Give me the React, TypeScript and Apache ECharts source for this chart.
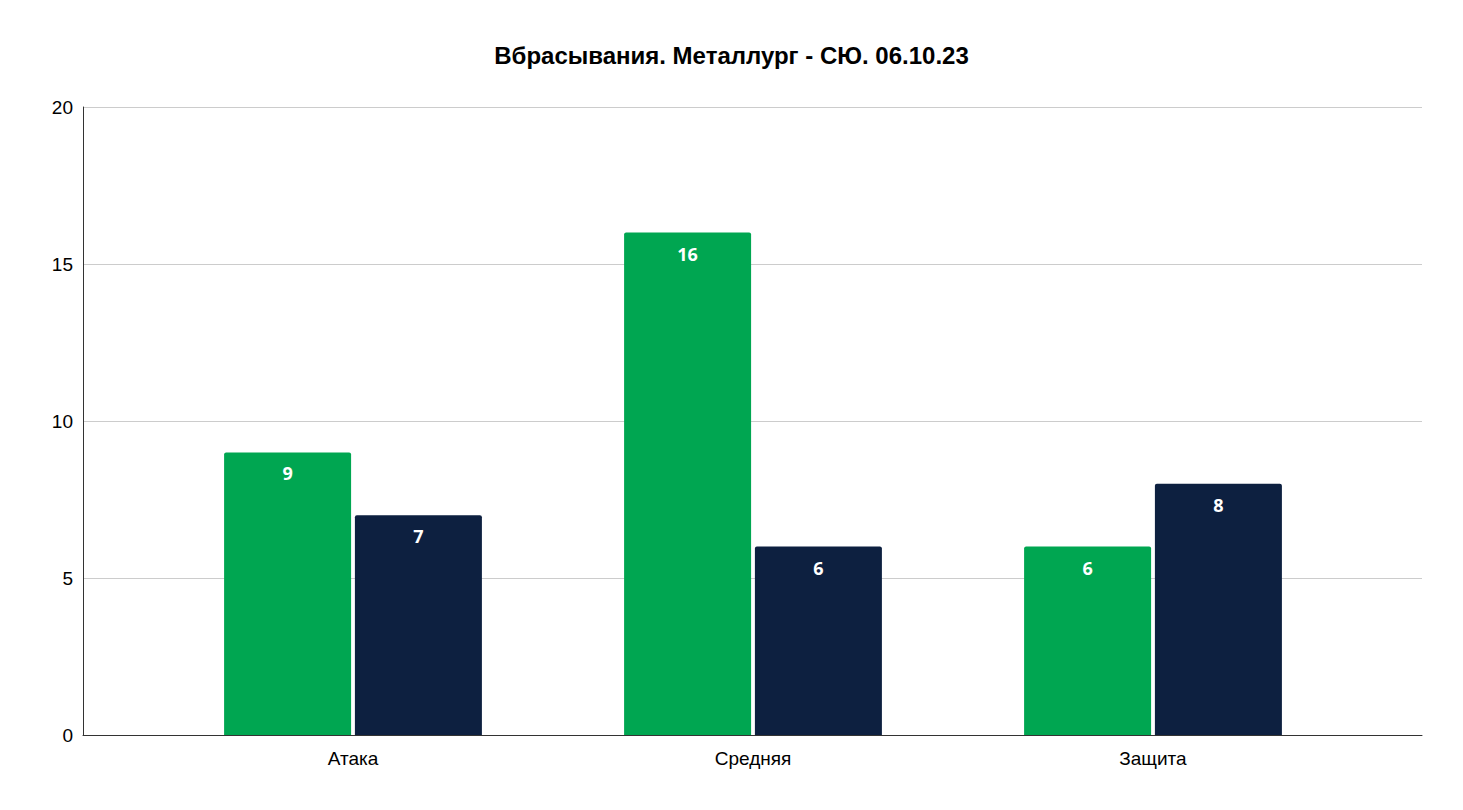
import React, { useEffect, useRef } from "react";
import * as echarts from "echarts";

const categories = ["Атака", "Средняя", "Защита"];
const seriesGreen = [9, 16, 6];
const seriesNavy = [7, 6, 8];
const yTicks = [0, 5, 10, 15, 20];
const titleText = "Вбрасывания. Металлург - СЮ. 06.10.23";

export default function App() {
  const ref = useRef<HTMLDivElement>(null);
  useEffect(() => {
    document.body.style.margin = "0";
    const chart = echarts.init(ref.current!, null, { renderer: "svg" });
    const labelStyle = {
      show: true,
      position: "insideTop" as const,
      distance: 12,
      color: "#ffffff",
      fontWeight: "bold" as const,
      fontSize: 18,
      fontFamily: "Open Sans",
    };
    chart.setOption({
      animation: false,
      backgroundColor: "#ffffff",
      title: {
        text: titleText,
        left: "center",
        top: 38,
        textStyle: { fontFamily: "Liberation Sans", fontWeight: "bold", fontSize: 24, color: "#000" },
      },
      grid: [
        { left: 83, right: 41, top: 107, bottom: 75 },
        { left: 153, right: 110, top: 107, bottom: 75 },
      ],
      xAxis: [
        {
          type: "value",
          gridIndex: 0,
          min: 0,
          max: 1,
          axisLine: { show: true, onZero: false, lineStyle: { color: "#333", width: 1 } },
          axisTick: { show: false },
          axisLabel: { show: false },
          splitLine: { show: false },
        },
        {
          type: "category",
          gridIndex: 1,
          data: categories,
          axisLine: { show: false },
          axisTick: { show: false },
          axisLabel: { color: "#000", fontSize: 19, fontFamily: "Liberation Sans", margin: 14 },
        },
      ],
      yAxis: [
        {
          type: "value",
          gridIndex: 0,
          min: yTicks[0],
          max: yTicks[yTicks.length - 1],
          interval: 5,
          axisLine: { show: true, lineStyle: { color: "#333", width: 1 } },
          axisTick: { show: false },
          axisLabel: { color: "#000", fontSize: 19, fontFamily: "Liberation Sans", margin: 10 },
          splitLine: { show: true, lineStyle: { color: "#cccccc", width: 1 } },
        },
        {
          type: "value",
          gridIndex: 1,
          min: yTicks[0],
          max: yTicks[yTicks.length - 1],
          interval: 5,
          show: false,
          splitLine: { show: false },
        },
      ],
      series: [
        {
          type: "bar",
          xAxisIndex: 1,
          yAxisIndex: 1,
          data: seriesGreen,
          barWidth: 127,
          barGap: "3%",
          itemStyle: { color: "#00A651", borderRadius: [2, 2, 0, 0] },
          label: labelStyle,
        },
        {
          type: "bar",
          xAxisIndex: 1,
          yAxisIndex: 1,
          data: seriesNavy,
          barWidth: 127,
          barGap: "3%",
          itemStyle: { color: "#0D2040", borderRadius: [2, 2, 0, 0] },
          label: labelStyle,
        },
      ],
    });
    return () => chart.dispose();
  }, []);
  return (
    <div
      ref={ref}
      style={{ position: "absolute", left: 0, top: 0, width: 1463, height: 810 }}
    />
  );
}
